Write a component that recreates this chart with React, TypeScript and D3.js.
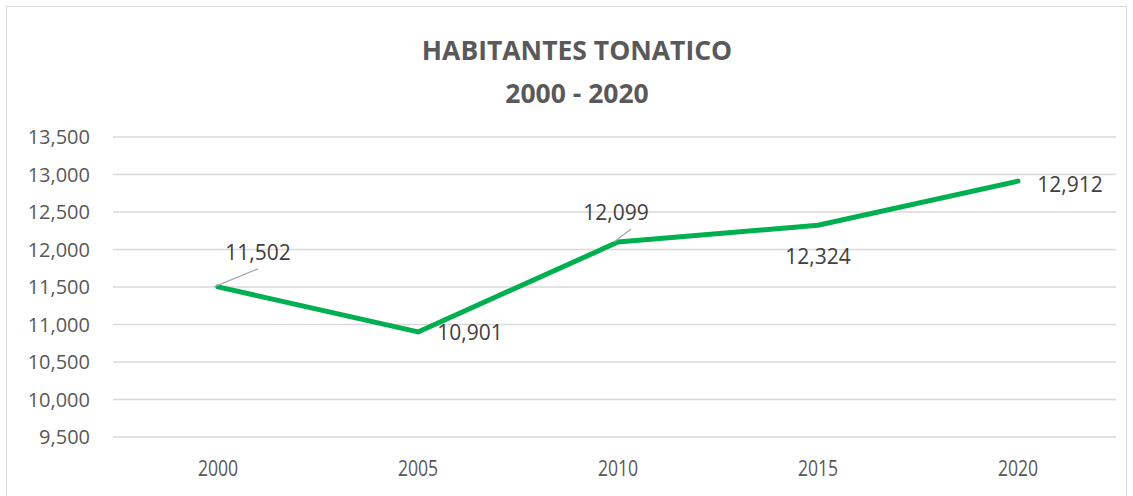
import React from "react";
import * as d3 from "d3";

const years = ["2000", "2005", "2010", "2015", "2020"];
const population = [11502, 10901, 12099, 12324, 12912];
const yTicks = [9500, 10000, 10500, 11000, 11500, 12000, 12500, 13000, 13500];
const titleLines = ["HABITANTES TONATICO", "2000 - 2020"];
// label offsets relative to point (dx, dy) and whether a leader line is drawn
const labelPlacement = [
  { dx: 40, dy: -34, leader: true },
  { dx: 52, dy: 1, leader: false },
  { dx: -2, dy: -30, leader: true },
  { dx: 0, dy: 31, leader: false },
  { dx: 52, dy: 3, leader: false },
];

export default function App() {
  const W = 1133;
  const H = 496;
  const x = d3.scaleBand().domain(years).range([118, 1118]);
  const y = d3.scaleLinear().domain([9500, 13500]).range([437, 137]);
  const fmt = d3.format(",");
  const pts = years.map((yr, i) => [x(yr)! + x.bandwidth() / 2, y(population[i])] as [number, number]);
  const line = d3.line()(pts);
  const font = "'Open Sans', 'Noto Sans', sans-serif";

  return (
    <svg width={W} height={H} style={{ position: "absolute", left: 0, top: 0, background: "#fff" }}>
      <rect x={6.5} y={6.5} width={1120} height={520} fill="#fff" stroke="#d9d9d9" strokeWidth={1} />
      {titleLines.map((t, i) => (
        <text key={t} x={577} y={60 + i * 43} textAnchor="middle" fontFamily={font} fontWeight="bold" fontSize={26.5} fill="#595959">
          {t}
        </text>
      ))}
      {yTicks.map((v) => (
        <g key={v}>
          <line x1={113} x2={1116} y1={y(v)} y2={y(v)} stroke="#d9d9d9" strokeWidth={1.5} />
          <text x={90} y={y(v)} dy="0.36em" textAnchor="end" fontFamily={font} fontSize={20} fill="#595959">
            {fmt(v)}
          </text>
        </g>
      ))}
      {years.map((yr) => {
        const cx = x(yr)! + x.bandwidth() / 2;
        return (
          <text
            key={yr}
            transform={`translate(${cx},${468}) scale(0.8,1)`}
            dy="0.36em"
            textAnchor="middle"
            fontFamily={font}
            fontSize={22}
            fill="#595959"
          >
            {yr}
          </text>
        );
      })}
      <path d={line!} fill="none" stroke="#00B050" strokeWidth={5} strokeLinejoin="round" strokeLinecap="round" />
      {pts.map(([px, py], i) => {
        const p = labelPlacement[i];
        const lx = px + p.dx;
        const ly = py + p.dy;
        return (
          <g key={i}>
            {p.leader && (
              <line
                x1={px - 4}
                y1={py}
                x2={i === 0 ? px + 40 : px + 13}
                y2={i === 0 ? py - 18 : py - 13}
                stroke="#a6a6a6"
                strokeWidth={1.3}
              />
            )}
            <text x={lx} y={ly} dy="0.36em" textAnchor="middle" fontFamily={font} fontSize={21} fill="#404040">
              {fmt(population[i])}
            </text>
          </g>
        );
      })}
    </svg>
  );
}
